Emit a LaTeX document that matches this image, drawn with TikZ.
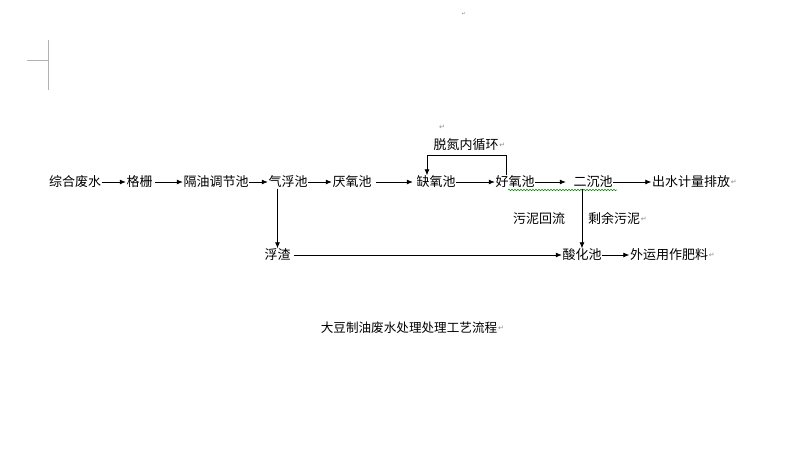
\documentclass[tikz,border=0pt]{standalone}
\usepackage{fontspec}
\newfontfamily\cjk{Noto Sans CJK SC}
\newfontfamily\symfont{DejaVu Sans}
\usetikzlibrary{arrows.meta,decorations.pathmorphing}
\tikzset{
  lbl/.style={inner sep=0.5pt, font=\cjk\fontsize{13}{13}\selectfont, text=black},
  flow/.style={draw=black, line width=0.8pt, -{Latex[length=6pt,width=5pt]}},
  plain/.style={draw=black, line width=0.8pt},
  pmark/.style={inner sep=0pt, font=\symfont\fontsize{7}{7}\selectfont, text=black!45},
  corner/.style={draw=black!30, line width=1pt},
  wavy/.style={draw=green!55!black, line width=0.5pt, decorate, decoration={snake, amplitude=0.7pt, segment length=3pt}}
}
\begin{document}
\begin{tikzpicture}[x=1pt,y=-1pt]
\useasboundingbox (0,0) rectangle (792,457);
\fill[white] (0,0) rectangle (792,457);
% corner marks
\coordinate (c1) at (48,40); \coordinate (c2) at (48,90);
\coordinate (c3) at (27,61); \coordinate (c4) at (48,61);
\draw[corner] (c1) -- (c2);
\draw[corner] (c3) -- (c4);
\node[pmark, font=\symfont\fontsize{5}{5}\selectfont] (tm) at (464,14) {↵};
% main row
\node[lbl] (n1) at (75,182) {综合废水};
\node[lbl] (n2) at (139.5,182) {格栅};
\node[lbl] (n3) at (216,182) {隔油调节池};
\node[lbl] (n4) at (288,182) {气浮池};
\node[lbl] (n5) at (352,182) {厌氧池};
\node[lbl] (n6) at (436,182) {缺氧池};
\node[lbl] (n7) at (515,182) {好氧池};
\node[lbl] (n8) at (593,182) {二沉池};
\node[lbl] (n9) at (691,182) {出水计量排放};
\node[pmark, anchor=west] (p9) at (n9.east) {↵};
% second row
\node[lbl] (n10) at (277.5,255) {浮渣};
\node[lbl] (n11) at (582,255) {酸化池};
\node[lbl] (n12) at (669,255) {外运用作肥料};
\node[pmark, anchor=west] (p12) at (n12.east) {↵};
% labels
\node[lbl] (n13) at (466,145) {脱氮内循环};
\node[pmark, anchor=west] (p13) at (n13.east) {↵};
\node[pmark] (p0) at (442,127) {↵};
\node[lbl] (l1) at (539,219) {污泥回流};
\node[lbl] (l2) at (614,219) {剩余污泥};
\node[pmark, anchor=west] (pl2) at (l2.east) {↵};
\node[lbl, font=\cjk\fontsize{12.6}{13}\selectfont] (title) at (409,328) {大豆制油废水处理处理工艺流程};
\node[pmark, anchor=west] (pt) at (title.east) {↵};
% spell-check underline
\coordinate (w1) at (508,190); \coordinate (w2) at (617,190);
\draw[wavy] (w1) -- (w2);
% flow arrows
\draw[flow] (n1) -- (n2);
\draw[flow] ([xshift=2pt]n2.east) -- (n3);
\draw[flow] (n3) -- (n4);
\draw[flow] (n4) -- (n5);
\draw[flow] ([xshift=4pt]n5.east) -- ([xshift=-3pt]n6.west);
\draw[flow] (n6) -- (n7);
\draw[flow] (n7) -- ([xshift=-7pt]n8.west);
\draw[flow] (n8) -- (n9);
% recirculation loop
\draw[flow] ([xshift=-9pt]n7.north) |- (427,155) -- ([xshift=-9pt]n6.north);
% downward branches
\draw[flow] (n4.south -| n10.north) -- (n10.north);
\draw[flow] (n8.south -| n11.north) -- (n11.north);
\draw[flow] ([xshift=3pt]n10.east) -- (n11);
\draw[flow] (n11) -- (n12);
\end{tikzpicture}
\end{document}
